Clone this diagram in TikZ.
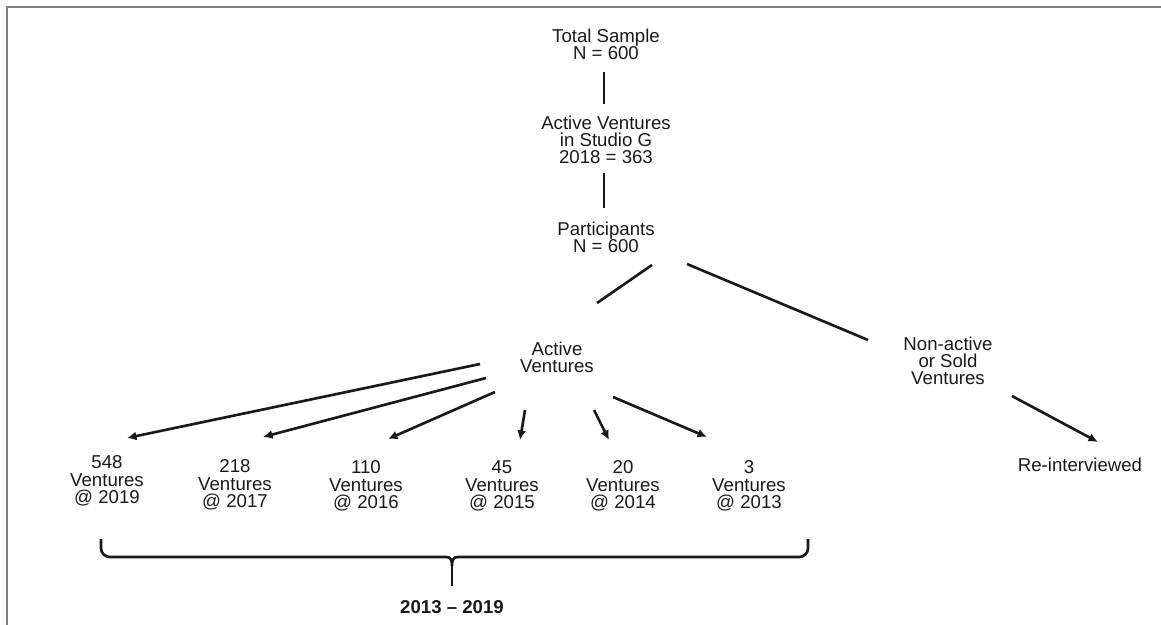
\documentclass[tikz,border=0pt]{standalone}
\usepackage{fontspec}
\setmainfont{Liberation Sans}
\usetikzlibrary{arrows.meta}

\begin{document}
\begin{tikzpicture}[x=0.02cm, y=-0.02cm, every node/.style={font=\fontsize{10.6}{9.8}\selectfont, align=center, text=black!90, inner sep=1pt}, >={Latex[length=1.9mm,width=1.8mm]}, link/.style={line width=1.5pt, black!90}]
	\useasboundingbox (0,0) rectangle (1161,625);
	\draw[black!50, line width=1.6pt] (7,625) -- (7,7) -- (1161,7);
	% top of the tree
	\node (total) at (606,44) {Total Sample\\N = 600};
	\node (studio) at (606,140) {Active Ventures\\in Studio G\\2018 = 363};
	\node (part) at (606,237) {Participants\\N = 600};
	\node (act) at (557,357) {Active\\Ventures};
	\node (nonact) at (948,361) {Non-active\\or Sold\\Ventures};
	\node (reint) at (1080,465) {Re-interviewed};
	\foreach \n/\yr/\x/\y in {548/2019/107/481, 218/2017/235/485, 110/2016/366/486, 45/2015/502/486, 20/2014/623/486, 3/2013/749/486}
		\node (v\yr) at (\x,\y) {\n\\Ventures\\@ \yr};
	\draw[link] ([shift={(-2,28)}]total.center) -- ([shift={(-2,-36)}]studio.center);
	\draw[link] ([shift={(-2,33)}]studio.center) -- ([shift={(-2,-29)}]part.center);
	\draw[link] ([shift={(46,28)}]part.center) -- ([shift={(40,-54)}]act.center);
	\draw[link] ([shift={(81,27)}]part.center) -- ([shift={(-80,-21)}]nonact.center);
	\draw[link,->] ([shift={(64,35)}]nonact.center) -- ([shift={(18,-23)}]reint.center);
	% arrows to the yearly groups
	\foreach \yr/\sx/\sy/\tx/\ty in {2019/-77/7/20/-43, 2017/-71/21/28/-48, 2016/-62/35/22/-47, 2015/-32/53/18/-46, 2014/37/53/-14/-46, 2013/56/40/-42/-49}
		\draw[link,->] ([shift={(\sx,\sy)}]act.center) -- ([shift={(\tx,\ty)}]v\yr.center);
	% brace
	\node (span) at (452,607) {\bfseries 2013 -- 2019};
	\coordinate (bl) at (101,539);
	\coordinate (br) at (808,539);
	\coordinate (tip) at (452,566);
	\draw[link, rounded corners=5] (bl) -- (101,557) -- (446,557);
	\draw[link, rounded corners=5] (br) -- (808,557) -- (458,557);
	\draw[link] (446,557) .. controls (451,557) and (452,560) .. (tip) .. controls (452,560) and (453,557) .. (458,557);
	\draw[link] (tip) -- ([shift={(0,-21)}]span.center);
\end{tikzpicture}
\end{document}
